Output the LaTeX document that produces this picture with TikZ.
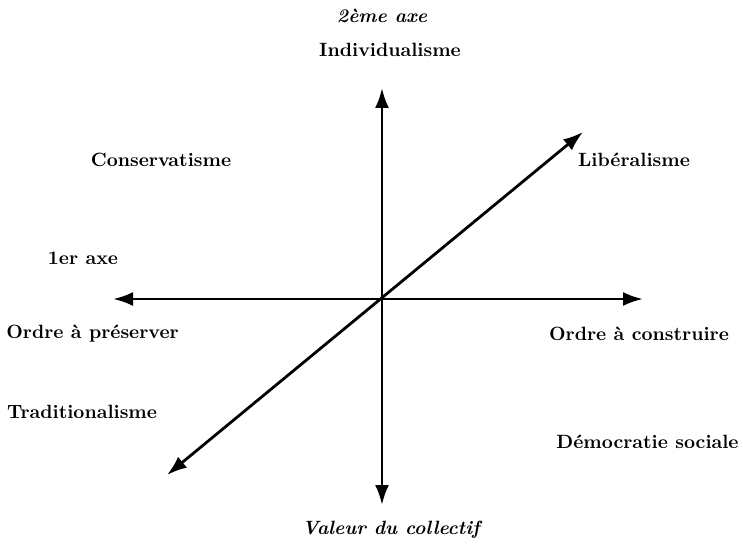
\documentclass[tikz,border=0pt]{standalone}
\usepackage{tikz}
\usetikzlibrary{arrows.meta,positioning}

\begin{document}
\begin{tikzpicture}[
  x=0.5pt,y=-0.5pt,
  axis/.style={line width=1.4pt,{Latex[length=10pt,width=7pt]}-{Latex[length=10pt,width=7pt]}},
  lbl/.style={font=\fontsize{9.6}{11}\selectfont\bfseries,inner sep=1pt},
  ttl/.style={font=\fontsize{9.6}{11}\selectfont\bfseries\itshape,inner sep=1pt},
]
  \useasboundingbox (0,0) rectangle (743,544);
  % axis ends
  \coordinate (top) at (382,88);
  \coordinate (bot) at (382,505);
  \coordinate (lft) at (113,299);
  \coordinate (rgt) at (643,299);
  \coordinate (sw) at (167,475);
  \coordinate (ne) at (583,132);
  \draw[axis] (bot) -- (top);
  \draw[axis] (lft) -- (rgt);
  \draw[axis] (sw) -- (ne);
  % labels
  \node[ttl] (axe2) at (382,16) {2\`eme axe};
  \node[lbl] (indiv) at (390,50) {Individualisme};
  \node[lbl] (cons) at (161,160) {Conservatisme};
  \node[lbl] (lib) at (634,160) {Lib\'eralisme};
  \node[lbl] (axe1) at (83,258) {1er axe};
  \node[lbl,anchor=west] (pres) at (4,334) {Ordre \`a pr\'eserver};
  \node[lbl] (constr) at (639,334) {Ordre \`a construire};
  \node[lbl] (trad) at (82,412) {Traditionalisme};
  \node[lbl,anchor=east] (demo) at (741,442) {D\'emocratie sociale};
  \node[ttl] (coll) at (391,530) {Valeur du collectif};
\end{tikzpicture}
\end{document}
